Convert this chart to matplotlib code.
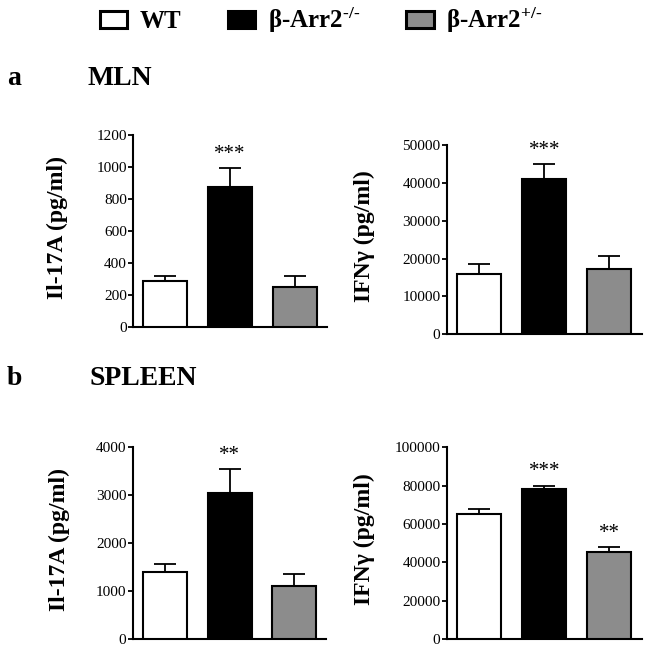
import matplotlib
matplotlib.use("Agg")
import matplotlib.pyplot as plt
from matplotlib.patches import Patch

plt.rcParams['font.family'] = ['Liberation Serif', 'DejaVu Serif']
plt.rcParams['mathtext.fontset'] = 'custom'
plt.rcParams['mathtext.rm'] = 'Liberation Serif:bold'
plt.rcParams['mathtext.it'] = 'Liberation Serif:bold'
plt.rcParams['mathtext.bf'] = 'Liberation Serif:bold'

groups = ["WT", r"β-Arr2$^{\text{-/-}}$", r"β-Arr2$^{\text{+/-}}$"]
bar_colors = ["white", "black", "#8c8c8c"]

# MLN
mln_il17 = [285, 875, 250]
mln_il17_err = [35, 120, 70]
mln_il17_stars = ["", "***", ""]

mln_ifng = [16000, 41000, 17200]
mln_ifng_err = [2600, 3900, 3600]
mln_ifng_stars = ["", "***", ""]

# SPLEEN
spl_il17 = [1400, 3030, 1110]
spl_il17_err = [160, 510, 255]
spl_il17_stars = ["", "**", ""]

spl_ifng = [65000, 78400, 45500]
spl_ifng_err = [2600, 1600, 2600]
spl_ifng_stars = ["", "***", "**"]

fig = plt.figure(figsize=(6.46, 6.51), dpi=100)


def panel(rect, vals, errs, stars, ymax, step, ylabel, lab_x):
    ax = fig.add_axes(rect)
    x = list(range(len(vals)))
    ax.bar(x, vals, width=0.68, color=bar_colors, edgecolor="black", linewidth=1.5, zorder=3)
    ax.errorbar(x, vals, yerr=[[0] * len(errs), errs], fmt="none", ecolor="black",
                elinewidth=1.3, capsize=8, capthick=1.3, zorder=2)
    for xi, v, e, s in zip(x, vals, errs, stars):
        if s:
            ax.annotate(s, (xi, v + e), xytext=(0, 3), textcoords="offset points",
                        ha="center", va="bottom", fontsize=15)
    ax.set_xlim(-0.5, 2.5)
    ax.set_ylim(0, ymax)
    ax.set_yticks(range(0, ymax + 1, step))
    ax.set_xticks([])
    for sp in ["top", "right"]:
        ax.spines[sp].set_visible(False)
    for sp in ["left", "bottom"]:
        ax.spines[sp].set_linewidth(1.5)
    ax.tick_params(axis="y", length=3.5, width=1.3, labelsize=11, pad=1)
    ax.set_ylabel(ylabel, fontsize=17, fontweight="bold")
    ax.yaxis.set_label_coords(lab_x, 0.52)
    return ax


panel([0.206, 0.498, 0.300, 0.2945], mln_il17, mln_il17_err, mln_il17_stars,
      1200, 200, "Il-17A (pg/ml)", -0.335)
panel([0.6915, 0.4865, 0.302, 0.2908], mln_ifng, mln_ifng_err, mln_ifng_stars,
      50000, 10000, "IFNγ (pg/ml)", -0.368)
panel([0.2054, 0.018, 0.300, 0.2959], spl_il17, spl_il17_err, spl_il17_stars,
      4000, 1000, "Il-17A (pg/ml)", -0.323)
panel([0.6915, 0.0184, 0.302, 0.2945], spl_ifng, spl_ifng_err, spl_ifng_stars,
      100000, 20000, "IFNγ (pg/ml)", -0.368)

# panel headers
fig.text(0.011, 0.869, "a", fontsize=20, fontweight="bold", va="baseline")
fig.text(0.136, 0.869, "MLN", fontsize=20, fontweight="bold", va="baseline")
fig.text(0.011, 0.409, "b", fontsize=20, fontweight="bold", va="baseline")
fig.text(0.138, 0.409, "SPLEEN", fontsize=20, fontweight="bold", va="baseline")

# legend
handles = [Patch(facecolor=c, edgecolor="black", linewidth=2.2) for c in bar_colors]
fig.legend(handles, groups, loc="center", bbox_to_anchor=(0.497, 0.968), ncol=3,
           frameon=False, prop={"size": 18, "weight": "bold"},
           handlelength=1.1, handleheight=0.65, handletextpad=0.5,
           columnspacing=1.85)

fig.savefig("out.png", dpi=100)
